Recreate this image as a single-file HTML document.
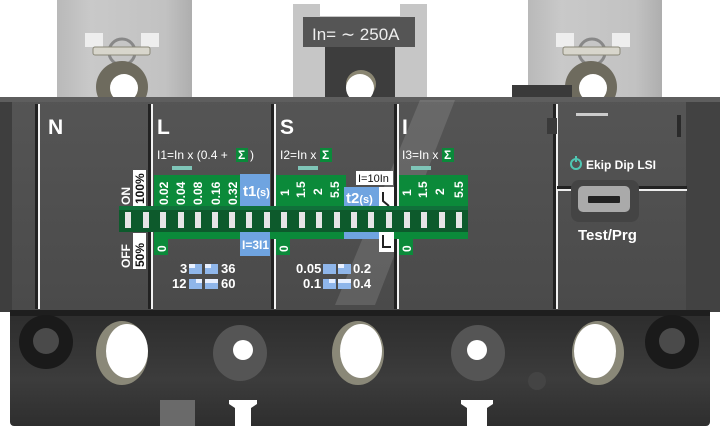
<!DOCTYPE html>
<html><head><meta charset="utf-8"><style>
html,body{margin:0;padding:0;background:#fff;}
svg{display:block;}
text{font-family:"Liberation Sans",sans-serif;}
</style></head><body>
<svg width="720" height="426" viewBox="0 0 720 426" xmlns="http://www.w3.org/2000/svg">
<defs>
<linearGradient id="panel" x1="0" y1="0" x2="0" y2="1"><stop offset="0" stop-color="#555"/><stop offset="1" stop-color="#4a4a4a"/></linearGradient>
<linearGradient id="bot" x1="0" y1="0" x2="0" y2="1"><stop offset="0" stop-color="#2c2c2c"/><stop offset="0.6" stop-color="#3c3c3c"/><stop offset="1" stop-color="#2e2e2e"/></linearGradient>
<linearGradient id="term" x1="0" y1="0" x2="1" y2="0"><stop offset="0" stop-color="#b9b9b9"/><stop offset="0.25" stop-color="#c9c9c9"/><stop offset="0.8" stop-color="#c2c2c2"/><stop offset="1" stop-color="#aeaeae"/></linearGradient>
</defs>
<!-- top terminals -->
<rect x="57" y="0" width="135" height="100" fill="url(#term)"/>
<rect x="85" y="33" width="18" height="14" fill="#eee"/><rect x="141" y="33" width="18" height="14" fill="#eee"/>
<circle cx="122" cy="52" r="13" fill="none" stroke="#888" stroke-width="3"/>
<rect x="93" y="47" width="57" height="8" rx="2" fill="#d8d6cc" stroke="#8a8878"/>
<circle cx="122" cy="87" r="26" fill="#6e6b5e"/><circle cx="124" cy="88" r="14" fill="#fff"/>

<rect x="528" y="0" width="134" height="100" fill="url(#term)"/>
<rect x="556" y="33" width="18" height="14" fill="#eee"/><rect x="612" y="33" width="18" height="14" fill="#eee"/>
<circle cx="592" cy="52" r="13" fill="none" stroke="#888" stroke-width="3"/>
<rect x="563" y="47" width="57" height="8" rx="2" fill="#d8d6cc" stroke="#8a8878"/>
<circle cx="591" cy="87" r="26" fill="#6e6b5e"/><circle cx="593" cy="88" r="14" fill="#fff"/>
<rect x="512" y="85" width="60" height="14" fill="#3a3a3a"/>

<rect x="293" y="4" width="134" height="95" fill="#c6c6c6"/>
<rect x="320" y="4" width="80" height="12" fill="#fff"/>
<rect x="325" y="45" width="70" height="54" fill="#3d3d3d"/>
<rect x="303" y="17" width="112" height="30" fill="#555"/>
<text x="312" y="40" font-size="17" fill="#eee">In= ∼ 250A</text>
<ellipse cx="361" cy="84" rx="15" ry="14" fill="#8a8672"/><circle cx="360" cy="88" r="14" fill="#fff"/>

<!-- main panel -->
<rect x="0" y="97" width="720" height="215" fill="url(#panel)"/>
<rect x="0" y="97" width="12" height="215" fill="#3e3e3e"/>
<rect x="686" y="97" width="34" height="215" fill="#424242"/>
<rect x="0" y="97" width="720" height="5" fill="#5e5e5e"/>
<polygon points="420,100 455,100 375,305 335,305" fill="#fff" opacity="0.12"/>
<!-- dividers -->
<g fill="#f2f2f2"><rect x="38" y="104" width="2" height="205"/><rect x="151" y="104" width="2" height="205"/><rect x="274" y="104" width="2" height="205"/><rect x="397" y="104" width="2" height="205"/><rect x="556" y="104" width="2" height="205"/></g>
<g fill="#222"><rect x="35" y="104" width="3" height="205"/><rect x="148" y="104" width="3" height="205"/><rect x="271" y="104" width="3" height="205"/><rect x="394" y="104" width="3" height="205"/><rect x="553" y="104" width="3" height="205"/></g>
<g font-weight="bold" fill="#fff" font-size="21"><text x="48" y="134">N</text><text x="157" y="134">L</text><text x="280" y="134">S</text><text x="402" y="134">I</text></g>

<g font-size="12" fill="#fff">
<text x="157" y="159">I1=In x (0.4 +</text><rect x="236" y="148" width="12" height="14" fill="#0a8a3a"/><text x="238" y="159" font-weight="bold">Σ</text><text x="250" y="159">)</text>
<text x="280" y="159">I2=In x</text><rect x="320" y="148" width="12" height="14" fill="#0a8a3a"/><text x="322" y="159" font-weight="bold">Σ</text>
<text x="402" y="159">I3=In x</text><rect x="442" y="148" width="12" height="14" fill="#0a8a3a"/><text x="444" y="159" font-weight="bold">Σ</text>
</g>
<g fill="#7fc5b8"><rect x="172" y="166" width="20" height="4"/><rect x="298" y="166" width="20" height="4"/><rect x="411" y="166" width="20" height="4"/></g>

<!-- ON/OFF labels -->
<rect x="133" y="170" width="13" height="36" fill="#fff"/>
<text transform="translate(130,205) rotate(-90)" font-size="12" font-weight="bold" fill="#fff">ON</text>
<text transform="translate(144,204) rotate(-90)" font-size="12" font-weight="bold" fill="#111">100%</text>
<rect x="133" y="233" width="13" height="36" fill="#fff"/>
<text transform="translate(130,268) rotate(-90)" font-size="12" font-weight="bold" fill="#fff">OFF</text>
<text transform="translate(144,267) rotate(-90)" font-size="12" font-weight="bold" fill="#111">50%</text>

<!-- green cells -->
<rect x="154" y="175" width="86" height="32" fill="#0b8a3a"/>
<rect x="276" y="175" width="70" height="32" fill="#0b8a3a"/>
<rect x="399" y="175" width="69" height="32" fill="#0b8a3a"/>
<rect x="240" y="174" width="30" height="33" fill="#6fa4e0"/>
<rect x="344" y="187" width="35" height="20" fill="#6fa4e0"/>
<rect x="379" y="187" width="15" height="20" fill="#fff"/>
<rect x="356" y="171" width="37" height="14" fill="#fff"/>
<text x="358" y="182" font-size="11" fill="#111">I=10In</text>
<path d="M383 192 v9 l6 5" stroke="#222" stroke-width="2" fill="none"/>
<text x="243" y="196" font-size="15" font-weight="bold" fill="#fff">t1<tspan font-size="11">(s)</tspan></text>
<text x="346" y="203" font-size="15" font-weight="bold" fill="#fff">t2<tspan font-size="11">(s)</tspan></text>
<g font-size="12" font-weight="bold" fill="#fff">
<text transform="translate(168,205) rotate(-90)">0.02</text>
<text transform="translate(185,205) rotate(-90)">0.04</text>
<text transform="translate(202,205) rotate(-90)">0.08</text>
<text transform="translate(220,205) rotate(-90)">0.16</text>
<text transform="translate(237,205) rotate(-90)">0.32</text>
<text transform="translate(289,196) rotate(-90)">1</text>
<text transform="translate(305,198) rotate(-90)">1.5</text>
<text transform="translate(322,195) rotate(-90)">2</text>
<text transform="translate(339,198) rotate(-90)">5.5</text>
<text transform="translate(411,196) rotate(-90)">1</text>
<text transform="translate(427,198) rotate(-90)">1.5</text>
<text transform="translate(444,195) rotate(-90)">2</text>
<text transform="translate(463,198) rotate(-90)">5.5</text>
</g>
<!-- switch strip -->
<rect x="119" y="206" width="349" height="26" fill="#0d5a2c"/>
<rect x="119" y="206" width="349" height="4" fill="#10703a"/>
<g fill="#e6e6e6">
<rect x="125" y="212" width="6" height="16"/><rect x="143" y="212" width="6" height="16"/><rect x="160" y="212" width="6" height="16"/><rect x="178" y="212" width="6" height="16"/><rect x="195" y="212" width="6" height="16"/><rect x="212" y="212" width="6" height="16"/><rect x="229" y="212" width="6" height="16"/><rect x="246" y="212" width="6" height="16"/><rect x="264" y="212" width="6" height="16"/><rect x="281" y="212" width="6" height="16"/><rect x="299" y="212" width="6" height="16"/><rect x="316" y="212" width="6" height="16"/><rect x="334" y="212" width="6" height="16"/><rect x="351" y="212" width="6" height="16"/><rect x="368" y="212" width="6" height="16"/><rect x="386" y="212" width="6" height="16"/><rect x="404" y="212" width="6" height="16"/><rect x="421" y="212" width="6" height="16"/><rect x="439" y="212" width="6" height="16"/><rect x="456" y="212" width="6" height="16"/>
</g>
<rect x="154" y="232" width="314" height="7" fill="#0b8a3a"/>
<rect x="344" y="232" width="35" height="7" fill="#6fa4e0"/>
<rect x="379" y="232" width="15" height="20" fill="#fff"/>
<path d="M383 235 v12 h8" stroke="#222" stroke-width="2" fill="none"/>
<rect x="240" y="232" width="30" height="24" fill="#6fa4e0"/>
<text x="242" y="249" font-size="12" font-weight="bold" fill="#fff">I=3I1</text>
<rect x="154" y="239" width="14" height="16" fill="#0b8a3a"/><rect x="276" y="239" width="14" height="16" fill="#0b8a3a"/><rect x="399" y="239" width="14" height="16" fill="#0b8a3a"/>
<g font-size="12" font-weight="bold" fill="#fff"><text transform="translate(166,252) rotate(-90)">0</text><text transform="translate(288,252) rotate(-90)">0</text><text transform="translate(411,252) rotate(-90)">0</text></g>

<!-- legends -->
<g font-size="13" fill="#fff" font-weight="bold">
<text x="180" y="273">3</text><text x="221" y="273">36</text>
<text x="172" y="288">12</text><text x="221" y="288">60</text>
<text x="296" y="273">0.05</text><text x="353" y="273">0.2</text>
<text x="303" y="288">0.1</text><text x="353" y="288">0.4</text>
</g>
<g fill="#8fb6ea">
<rect x="189" y="264" width="13" height="10"/><rect x="205" y="264" width="13" height="10"/>
<rect x="189" y="279" width="13" height="10"/><rect x="205" y="279" width="13" height="10"/>
<rect x="323" y="264" width="13" height="10"/><rect x="338" y="264" width="13" height="10"/>
<rect x="323" y="279" width="13" height="10"/><rect x="338" y="279" width="13" height="10"/>
</g>
<g fill="#e8f0ff"><rect x="189" y="264" width="6" height="4"/><rect x="205" y="264" width="6" height="4"/><rect x="196" y="279" width="6" height="4"/><rect x="205" y="279" width="13" height="4"/><rect x="338" y="264" width="6" height="4"/><rect x="329" y="279" width="6" height="4"/><rect x="338" y="279" width="13" height="4"/></g>

<!-- right panel -->
<rect x="576" y="113" width="32" height="3" fill="#ccc"/>
<rect x="547" y="118" width="10" height="16" fill="#3a3a3a"/>
<rect x="677" y="115" width="4" height="22" fill="#2a2a2a"/>
<rect x="557" y="186" width="130" height="3" fill="#222"/>
<rect x="557" y="189" width="130" height="2" fill="#eee"/>
<circle cx="576" cy="164" r="5" fill="none" stroke="#4fc7b3" stroke-width="2"/>
<rect x="575" y="156" width="2" height="6" fill="#4fc7b3"/>
<text x="586" y="169" font-size="12" font-weight="bold" fill="#fff">Ekip Dip LSI</text>
<rect x="571" y="180" width="68" height="42" rx="8" fill="#444"/>
<rect x="578" y="186" width="52" height="26" rx="5" fill="#aaa"/>
<rect x="588" y="196" width="32" height="7" rx="1" fill="#222"/>
<text x="578" y="240" font-size="15" font-weight="bold" fill="#fff">Test/Prg</text>

<!-- bottom -->
<rect x="10" y="310" width="700" height="116" rx="4" fill="url(#bot)"/>
<rect x="10" y="310" width="700" height="6" fill="#1e1e1e"/>
<circle cx="46" cy="342" r="27" fill="#1a1a1a"/><circle cx="46" cy="341" r="13" fill="#4a4a4a"/>
<circle cx="672" cy="342" r="27" fill="#1a1a1a"/><circle cx="672" cy="341" r="13" fill="#4a4a4a"/>
<ellipse cx="122" cy="353" rx="26" ry="32" fill="#8a8878"/><ellipse cx="127" cy="351" rx="21" ry="27" fill="#fff"/>
<ellipse cx="358" cy="353" rx="26" ry="32" fill="#8a8878"/><ellipse cx="361" cy="351" rx="21" ry="27" fill="#fff"/>
<ellipse cx="598" cy="353" rx="26" ry="32" fill="#8a8878"/><ellipse cx="595" cy="351" rx="21" ry="27" fill="#fff"/>
<ellipse cx="240" cy="353" rx="27" ry="28" fill="#555"/><ellipse cx="243" cy="350" rx="10" ry="10" fill="#fff"/>
<ellipse cx="478" cy="353" rx="27" ry="28" fill="#555"/><ellipse cx="477" cy="350" rx="10" ry="10" fill="#fff"/>
<circle cx="537" cy="381" r="9" fill="#444"/>
<path d="M229 400 h28 v4 l-6 4 v18 h-16 v-18 l-6 -4 z" fill="#fff"/>
<path d="M461 400 h32 v4 l-6 4 v18 h-20 v-18 l-6 -4 z" fill="#fff"/>
<rect x="160" y="400" width="35" height="26" fill="#6a6a6a"/>
<rect x="0" y="410" width="10" height="16" fill="#fff"/><rect x="710" y="410" width="10" height="16" fill="#fff"/>
</svg>
</body></html>
